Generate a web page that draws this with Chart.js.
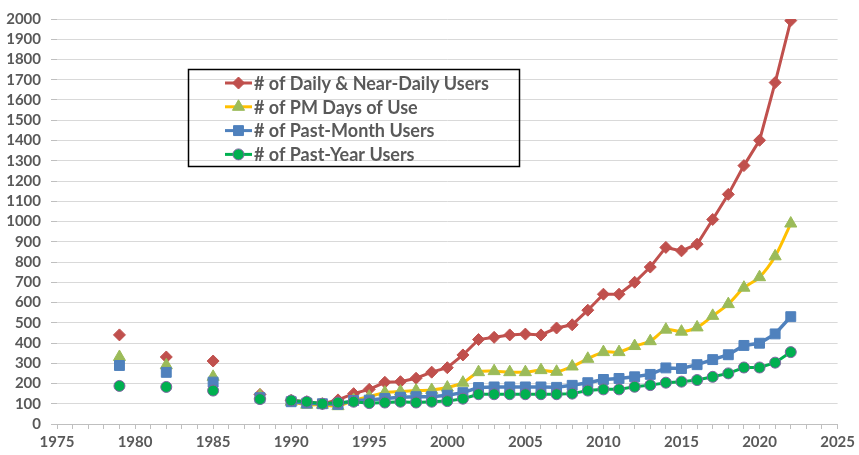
<!DOCTYPE html>
<html>
<head>
<meta charset="utf-8">
<script src="https://cdn.jsdelivr.net/npm/chart.js@4/dist/chart.umd.min.js"></script>
<style>
  html, body { margin: 0; padding: 0; background: #fff; }
  #wrap { width: 859px; height: 455px; position: relative; }
</style>
</head>
<body>
<div id="wrap"><canvas id="chart"></canvas></div>
<script>
// survey years (gap after 1988, yearly from 1990)
var years = [1979, 1982, 1985, 1988,
  1990, 1991, 1992, 1993, 1994, 1995, 1996, 1997, 1998, 1999,
  2000, 2001, 2002, 2003, 2004, 2005, 2006, 2007, 2008, 2009,
  2010, 2011, 2012, 2013, 2014, 2015, 2016, 2017, 2018, 2019,
  2020, 2021, 2022];

var dailyUsers = [440, 331, 311, 146,
  117, 110, 100, 119, 150, 171, 206, 209, 226, 256,
  278, 341, 417, 428, 440, 444, 440, 474, 490, 562,
  641, 641, 700, 775, 872, 855, 888, 1010, 1134, 1276,
  1401, 1686, 1992];

var pmDays = [331, 290, 233, 140,
  110, 95, 95, 88, 118, 135, 155, 160, 165, 168,
  180, 204, 256, 261, 256, 256, 266, 258, 284, 322,
  355, 355, 385, 409, 466, 456, 477, 534, 592, 673,
  725, 828, 990];

var pastMonth = [289, 255, 207, 130,
  110, 103, 100, 97, 116, 118, 126, 132, 135, 135,
  142, 155, 180, 183, 183, 183, 183, 181, 191, 204,
  220, 225, 233, 245, 277, 274, 293, 318, 342, 388,
  399, 445, 530];

var pastYear = [188, 183, 165, 123,
  116, 110, 100, 106, 110, 103, 106, 110, 106, 110,
  113, 125, 147, 147, 147, 147, 147, 147, 150, 165,
  171, 171, 184, 192, 204, 209, 217, 233, 250, 279,
  279, 303, 355];

var seriesNames = ['# of Daily & Near-Daily Users', '# of PM Days of Use',
  '# of Past-Month Users', '# of Past-Year Users'];

var TEXT = '#595959';
var FONT = 'Lato, "Liberation Sans", sans-serif';

function pts(vals) {
  return years.map(function (y, i) { return { x: y, y: vals[i] }; });
}

var series = [
  { name: seriesNames[0], data: dailyUsers, line: '#C0504D', fill: '#C0504D', edge: '#C0504D', style: 'rectRot', r: 6, bw: 1, lw: 3, tension: 0, order: 4 },
  { name: seriesNames[1], data: pmDays, line: '#FFC000', fill: '#9BBB59', edge: '#9BBB59', style: 'triangle', r: 7, bw: 1, lw: 3, tension: 0.3, order: 3 },
  { name: seriesNames[2], data: pastMonth, line: '#4F81BD', fill: '#4F81BD', edge: '#4F81BD', style: 'rect', r: 7, bw: 1, lw: 3.5, tension: 0, order: 2 },
  { name: seriesNames[3], data: pastYear, line: '#00B050', fill: '#00B050', edge: '#8064A2', style: 'circle', r: 5.5, bw: 1, lw: 3, tension: 0, order: 1 }
];

/* ---------- boxed legend with line + marker swatches ---------- */
var boxLegend = {
  id: 'boxLegend',
  afterDraw: function (chart) {
    var ctx = chart.ctx;
    ctx.save();
    ctx.strokeStyle = '#000';
    ctx.lineWidth = 1.5;
    ctx.strokeRect(188.5, 69.5, 331, 97);
    series.forEach(function (s, i) {
      var y = 83 + i * 23.8;
      ctx.strokeStyle = s.line;
      ctx.lineWidth = 3;
      ctx.beginPath();
      ctx.moveTo(225, y);
      ctx.lineTo(252, y);
      ctx.stroke();
      ctx.fillStyle = s.fill;
      ctx.strokeStyle = s.edge;
      ctx.lineWidth = s.bw;
      Chart.helpers.drawPoint(ctx, { pointStyle: s.style, radius: s.r, borderWidth: s.bw, rotation: 0 }, 238.5, y);
      ctx.fillStyle = TEXT;
      ctx.font = 'bold 18px ' + FONT;
      ctx.textBaseline = 'middle';
      ctx.textAlign = 'left';
      ctx.fillText(s.name, 254, y + 1);
    });
    ctx.restore();
  }
};

new Chart(document.getElementById('chart'), {
  type: 'line',
  data: {
    datasets: series.map(function (s) {
      return {
        label: s.name,
        data: pts(s.data),
        borderColor: s.line,
        borderWidth: s.lw,
        backgroundColor: s.fill,
        pointBackgroundColor: s.fill,
        pointBorderColor: s.edge,
        pointBorderWidth: s.bw,
        pointStyle: s.style,
        pointRadius: s.r,
        tension: s.tension,
        spanGaps: 1.5,
        order: s.order
      };
    })
  },
  options: {
    responsive: true,
    maintainAspectRatio: false,
    animation: false,
    layout: { padding: { top: 16, right: 21, left: 0, bottom: 0 } },
    plugins: { legend: { display: false }, tooltip: { enabled: false } },
    scales: {
      x: {
        type: 'linear',
        min: 1975,
        max: 2025,
        afterFit: function (s) { s.height = 31; },
        border: { display: true, color: '#BFBFBF', width: 1 },
        grid: { drawOnChartArea: false, drawTicks: true, tickLength: 5, color: '#BFBFBF' },
        ticks: {
          stepSize: 1,
          autoSkip: false,
          maxRotation: 0,
          padding: 4,
          color: TEXT,
          font: { family: FONT, size: 15, weight: 'bold' },
          callback: function (v) { return v % 5 === 0 ? String(v) : ''; }
        }
      },
      y: {
        min: 0,
        max: 2000,
        afterFit: function (s) { s.width = 57; },
        border: { display: false },
        grid: { color: '#D9D9D9', borderDash: [3, 2], tickLength: 6, tickColor: '#BFBFBF' },
        ticks: {
          stepSize: 100,
          autoSkip: false,
          padding: 10,
          color: TEXT,
          font: { family: FONT, size: 15, weight: 'bold' },
          callback: function (v) { return String(v); }
        }
      }
    }
  },
  plugins: [boxLegend]
});
</script>
</body>
</html>
